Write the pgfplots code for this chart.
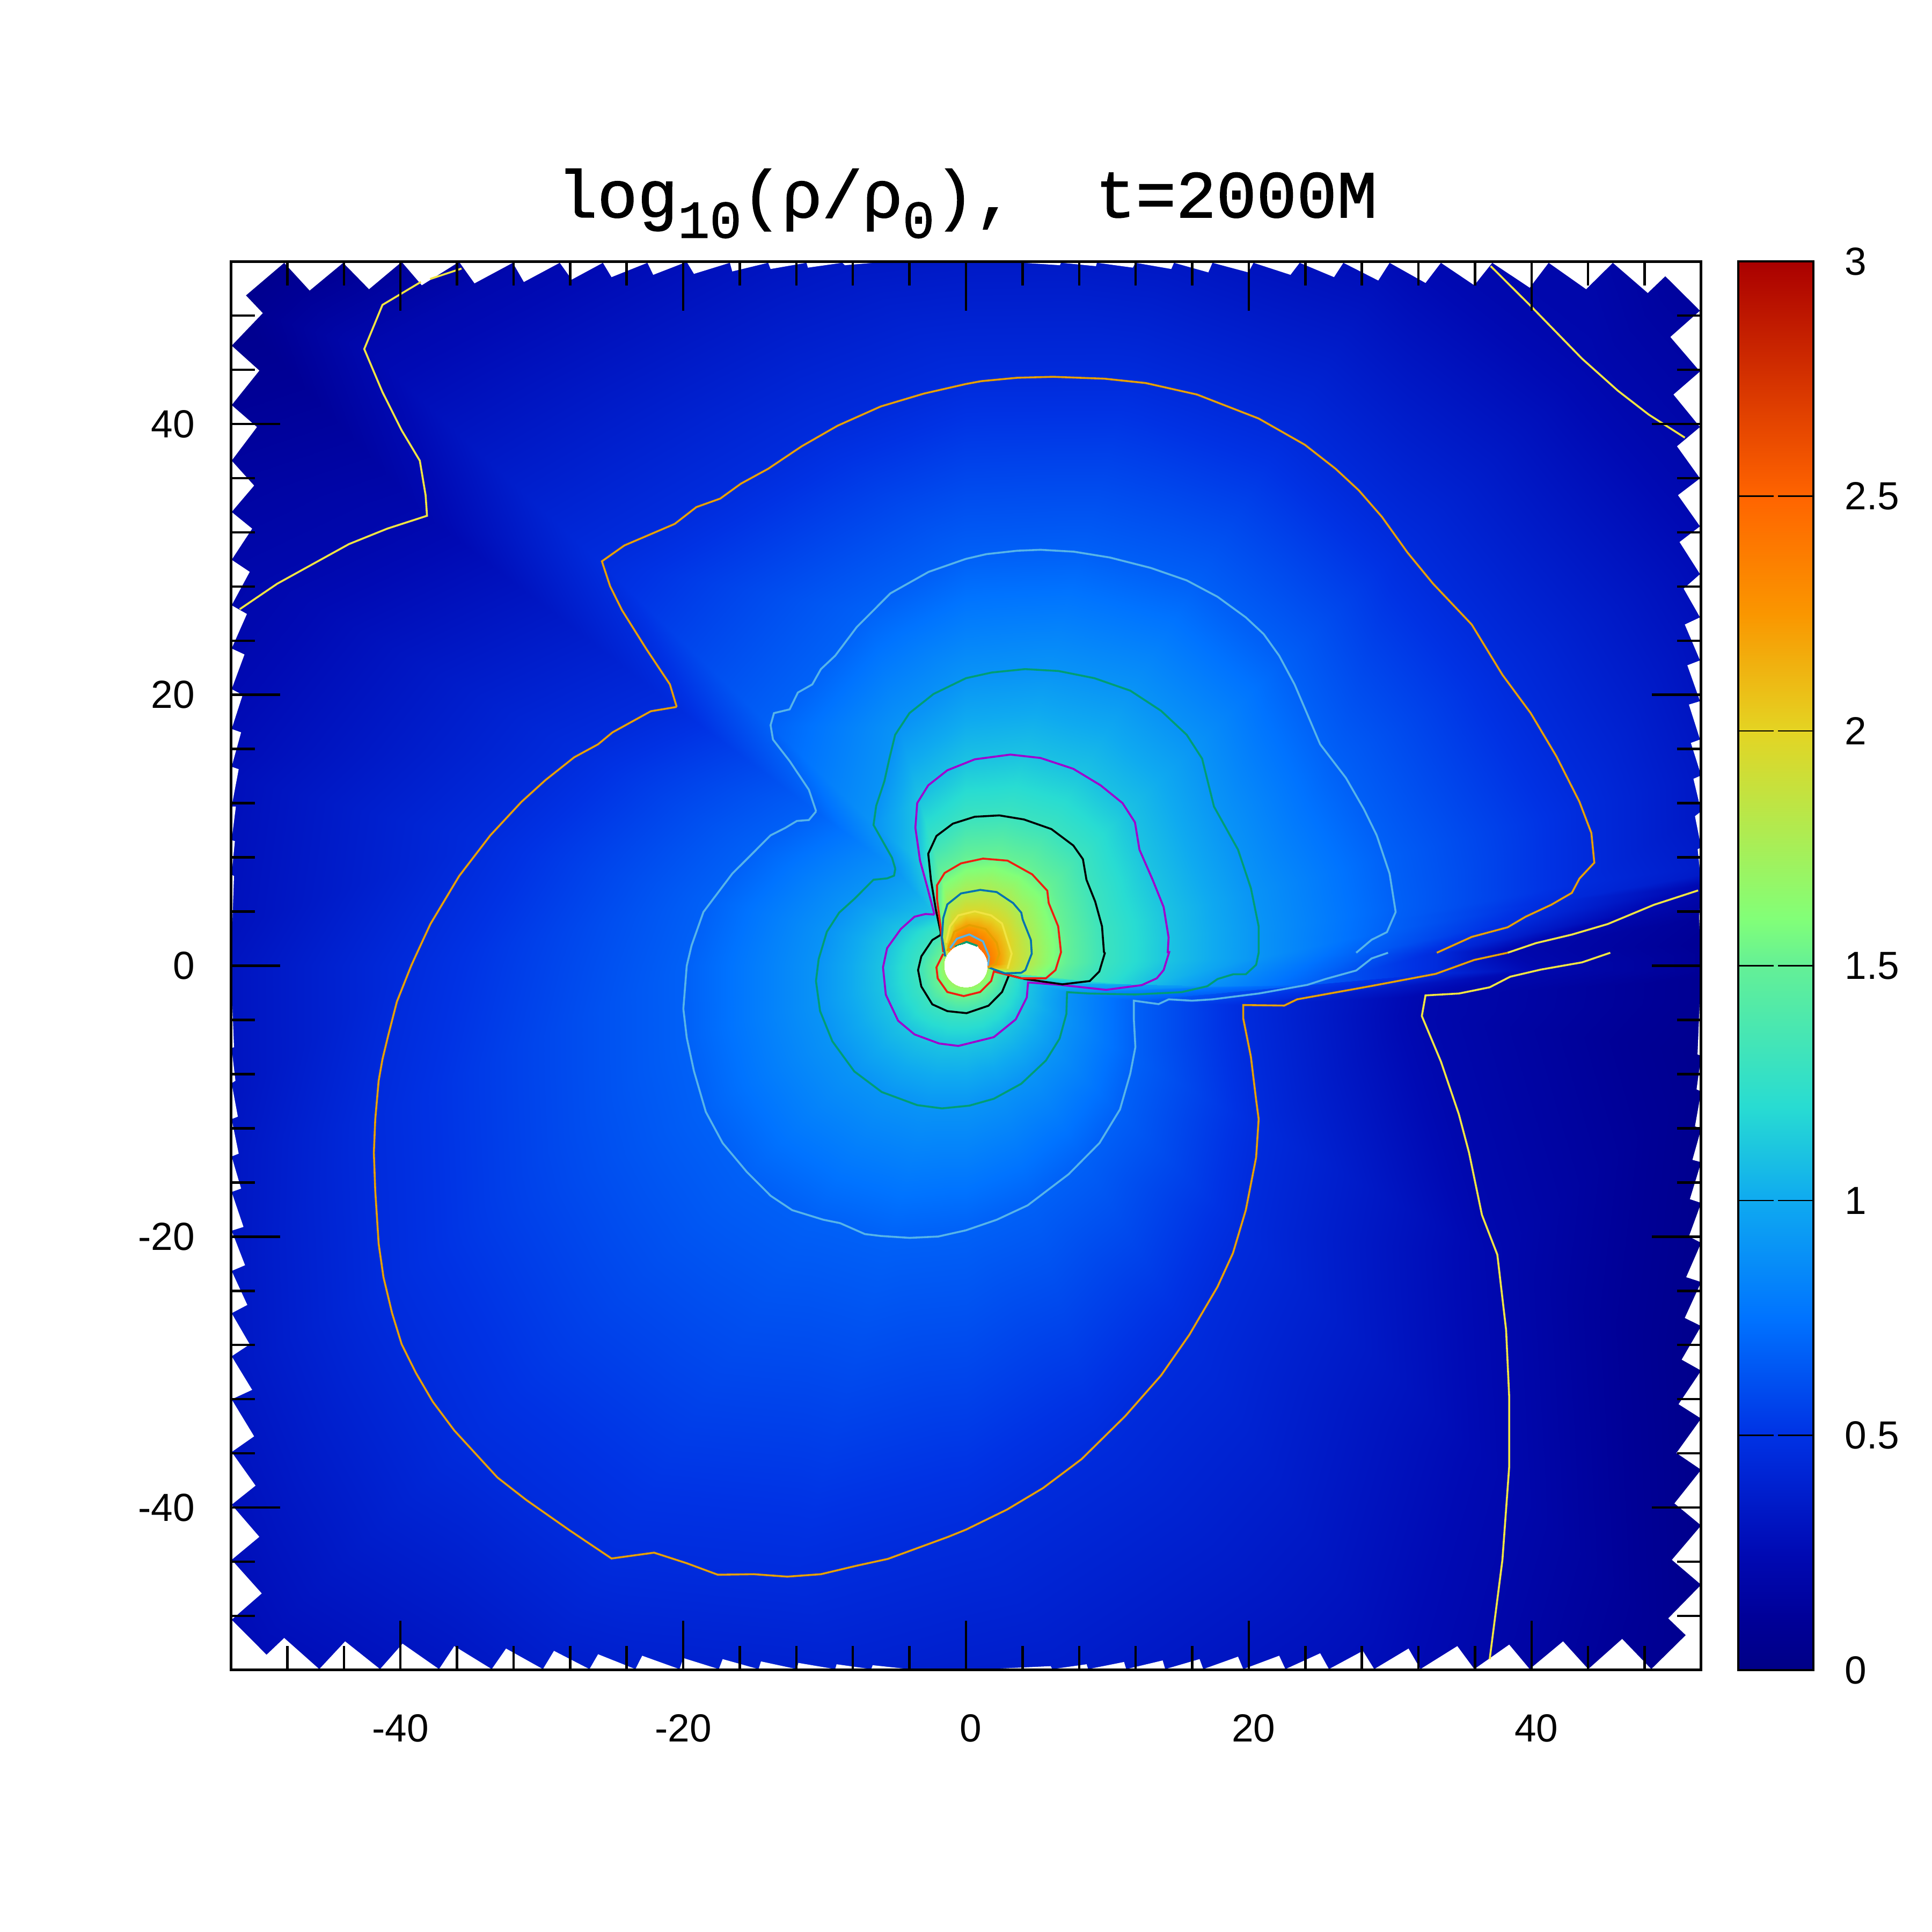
\documentclass[border=0pt]{standalone}
\usepackage{fontspec}
\setmainfont{Liberation Sans}
\newfontfamily\titlefont[RawFeature={embolden=1.2}]{Liberation Mono}
\usepackage{pgfplots}
\pgfplotsset{compat=1.18}
\definecolor{cyel}{RGB}{240,228,66}
\definecolor{cora}{RGB}{230,159,0}
\definecolor{csky}{RGB}{86,180,233}
\definecolor{cgrn}{RGB}{0,158,115}
\definecolor{cpur}{RGB}{160,0,205}
\definecolor{cred}{RGB}{240,30,15}
\definecolor{cblu}{RGB}{0,114,178}
\pgfplotsset{
  colormap={rho}{
    rgb255(0)=(0,0,135) rgb255(10)=(0,0,150) rgb255(25)=(0,10,180) rgb255(50)=(0,50,228)
    rgb255(75)=(0,115,255) rgb255(100)=(15,170,240) rgb255(120)=(40,220,210)
    rgb255(150)=(100,240,150) rgb255(160)=(130,255,120) rgb255(200)=(228,212,35)
    rgb255(225)=(250,150,0) rgb255(250)=(255,100,0) rgb255(300)=(170,0,0)
  }
}
\begin{document}
\begin{tikzpicture}
\path[use as bounding box] (0,0) rectangle (360pt,360pt);
\node[anchor=base west,inner sep=0pt] at (103.6pt,319.5pt) {\titlefont\fontsize{12.5}{14}\selectfont log\raisebox{-3.8pt}{\fontsize{9.9}{11}\selectfont 10}(ρ/ρ\raisebox{-3.8pt}{\fontsize{9.9}{11}\selectfont 0}),\ \ t=2000M};
\begin{axis}[
  at={(43pt,48.8pt)}, anchor=south west,
  width=274pt, height=262.5pt, scale only axis,
  xmin=-52, xmax=52, ymin=-52, ymax=52,
  axis on top,
  axis line style={line width=0.5pt},
  tick align=inside,
  tick style={black,line width=0.45pt},
  major tick length=9.2pt, minor tick length=4.5pt,
  xtick={-40,-20,0,20,40},
  xticklabels={-40,-20,\kern1.8pt 0,\kern1.8pt 20,\kern1.8pt 40},
  ytick={-40,-20,0,20,40},
  yticklabels={-40,-20,0,20,40},
  minor xtick={-48,-44,-36,-32,-28,-24,-16,-12,-8,-4,4,8,12,16,24,28,32,36,44,48},
  minor ytick={-48,-44,-36,-32,-28,-24,-16,-12,-8,-4,4,8,12,16,24,28,32,36,44,48},
  xticklabel style={font=\fontsize{7.3}{8}\selectfont,anchor=north,inner sep=0pt,yshift=-8.1pt},
  yticklabel style={font=\fontsize{7.3}{8}\selectfont,anchor=east,inner sep=0pt,xshift=-6.5pt},
  colormap name=rho,
  point meta min=0, point meta max=3,
  colorbar right,
  colorbar style={
    width=14pt, xshift=-1.9pt,
    ytick={0,0.5,1,1.5,2,2.5,3},
    yticklabels={0,0.5,1,1.5,2,2.5,3},
    tick align=inside, ytick pos=both, yticklabel pos=right,
    major tick length=6.6pt,
    ytick style={black,line width=0.25pt},
    yticklabel style={font=\fontsize{7.3}{8}\selectfont,anchor=west,inner sep=0pt,xshift=5.7pt},
  },
]
% density field: every scan line runs from the inner rim out along the contour levels
\addplot[surf,shader=interp,mesh/cols=13,data cs=polar,point meta=explicit,forget plot] table[x=t,y=r,meta=v,row sep=\\]{
t r v\\
119 1.6 2.45\\131 1.72 2.38\\135 1.9 2.2\\130 2.2 1.97\\129 2.7 1.78\\122 3.42 1.53\\111 6.8 1.3\\113 8.4 1.1\\122 12.3 .9\\128 22.5 .68\\131 39.4 .46\\133 62.3 .22\\134 72 .03\\
105 1.45 2.45\\105 2.12 2.38\\105 2.7 2.2\\105 3.4 1.97\\105 4.8 1.78\\105 6.75 1.53\\105 9.25 1.3\\105 12.7 1.1\\105 18.2 .9\\105 27 .68\\105 40.4 .46\\105 62 .22\\105 90 .1\\
90 1.76 2.45\\90 2.32 2.38\\90 3.02 2.2\\90 3.95 1.97\\90 5.45 1.78\\90 7.65 1.53\\90 10.85 1.3\\90 15 1.1\\90 21.2 .9\\90 30 .68\\90 43 .46\\90 62 .22\\90 90 .15\\
75 1.7 2.45\\75 2.27 2.38\\75 3.05 2.2\\75 4.1 1.97\\75 5.8 1.78\\75 8.2 1.53\\75 11.45 1.3\\75 16.05 1.1\\75 22.6 .9\\75 31.5 .68\\75 44.7 .46\\75 62 .22\\75 90 .13\\
60 1.65 2.45\\60 2.15 2.38\\60 3 2.2\\60 4.1 1.97\\60 5.8 1.78\\60 8.25 1.53\\60 11.7 1.3\\60 16.4 1.1\\60 23.4 .9\\60 32.4 .68\\60 45.2 .46\\60 63 .22\\60 90 .1\\
45 1.5 2.45\\45 1.95 2.38\\45 2.85 2.2\\45 3.95 1.97\\45 5.35 1.78\\45 8.05 1.53\\45 11.5 1.3\\45 16 1.1\\45 22.9 .9\\45 31.7 .68\\45 43.7 .46\\45 62.5 .22\\45 80 .05\\
30 1.45 2.45\\30 1.85 2.38\\30 2.65 2.2\\30 3.65 1.97\\30 5.05 1.78\\30 7.3 1.53\\30 10.45 1.3\\30 14.8 1.1\\30 21.1 .9\\30 30 .68\\30 43.6 .46\\30 63 .22\\30 90 .1\\
15 1.4 2.45\\15 1.75 2.38\\15 2.5 2.2\\15 3.35 1.97\\15 4.85 1.78\\15 7 1.53\\15 10 1.3\\15 14.6 1.1\\15 20.95 .9\\15 30.7 .68\\15 45 .46\\15 62 .22\\15 90 .12\\
8 1.4 2.45\\8 1.7 2.38\\8 2.45 2.2\\8 3.25 1.97\\8 4.75 1.78\\8 6.8 1.53\\8 9.85 1.3\\8 14.5 1.1\\8 20.9 .9\\8 30.65 .68\\8 44 .46\\8 65 .22\\8 90 .15\\
6.5 1.4 2.45\\6.5 1.68 2.38\\6.5 2.42 2.2\\6.5 3.22 1.97\\6.5 4.72 1.78\\6.5 6.77 1.53\\6.5 9.82 1.3\\6.5 14.4 1.1\\6.5 20.85 .9\\6.5 30.3 .68\\6.5 41.6 .46\\6.5 53 .22\\6.5 70 .02\\
5 1.4 2.45\\5 1.65 2.38\\5 2.4 2.2\\5 3.2 1.97\\5 4.7 1.78\\5 6.75 1.53\\5 9.8 1.3\\5 14.35 1.1\\5 20.8 .9\\5 30 .68\\5 39.5 .46\\5 48.5 .22\\5 65 .02\\
1.7 1.4 2.45\\1.7 1.6 2.38\\1.7 2.35 2.2\\1.7 3.15 1.97\\1.7 4.65 1.78\\1.7 6.7 1.53\\1.7 9.76 1.3\\1.7 14.3 1.1\\1.7 20.7 .9\\1.7 27.6 .68\\1.7 33.3 .46\\1.7 38.3 .22\\1.7 60 .02\\
0 1.4 2.45\\1 1.6 2.38\\1 2.07 2.2\\-4 2.95 1.97\\-7.6 3.94 1.78\\-9.3 5.73 1.53\\-7.4 8.82 1.3\\-6.6 12.5 1.1\\-5 17.14 .9\\-3.3 24.2 .68\\-1 33.2 .46\\-.4 40.7 .22\\-.5 60 .02\\
-5 1.3 2.45\\-5 1.35 2.38\\-5 1.4 2.2\\-5 1.45 1.97\\-4.3 1.6 1.78\\-12 2.01 1.53\\-12.8 3.12 1.3\\-15.6 4.56 1.1\\-15.3 7.41 .9\\-12.3 12.15 .68\\-8.4 19.8 .46\\-3.9 32.6 .22\\-2 60 .02\\
-22 1.05 2.45\\-22 1.1 2.38\\-22 1.15 2.2\\-22 1.2 1.97\\-22 1.35 1.78\\-22 2.05 1.53\\-22 3.15 1.3\\-22 4.7 1.1\\-22 7.5 .9\\-18 12.5 .68\\-11 20 .46\\-6.6 32.45 .22\\-7 55 .03\\
-30 1.05 2.45\\-30 1.1 2.38\\-30 1.15 2.2\\-30 1.2 1.97\\-30 1.3 1.78\\-30 2.1 1.53\\-30 3.17 1.3\\-30 4.92 1.1\\-30 8.1 .9\\-30 13.7 .68\\-30 23.9 .46\\-30 43 .22\\-30 60 .03\\
-45 1.05 2.45\\-45 1.1 2.38\\-45 1.15 2.2\\-45 1.2 1.97\\-45 1.3 1.78\\-45 2.15 1.53\\-45 3.25 1.3\\-45 5.2 1.1\\-45 8.8 .9\\-45 15.25 .68\\-45 27.4 .46\\-45 54 .22\\-45 75 .03\\
-60 1.05 2.45\\-60 1.1 2.38\\-60 1.15 2.2\\-60 1.2 1.97\\-60 1.3 1.78\\-60 2.18 1.53\\-60 3.35 1.3\\-60 5.47 1.1\\-60 9.3 .9\\-60 16.6 .68\\-60 31.7 .46\\-60 66 .22\\-60 90 .05\\
-75 1.05 2.45\\-75 1.1 2.38\\-75 1.15 2.2\\-75 1.2 1.97\\-75 1.3 1.78\\-75 2.2 1.53\\-75 3.45 1.3\\-75 5.7 1.1\\-75 9.75 .9\\-75 18.1 .68\\-75 36.4 .46\\-75 70 .22\\-75 90 .08\\
-90 1.05 2.45\\-90 1.1 2.38\\-90 1.15 2.2\\-90 1.2 1.97\\-90 1.3 1.78\\-90 2.25 1.53\\-90 3.5 1.3\\-90 5.9 1.1\\-90 10.44 .9\\-90 19.5 .68\\-90 41.5 .46\\-90 72 .22\\-90 90 .12\\
-105 1.05 2.45\\-105 1.1 2.38\\-105 1.15 2.2\\-105 1.2 1.97\\-105 1.3 1.78\\-105 2.3 1.53\\-105 3.57 1.3\\-105 6.03 1.1\\-105 10.8 .9\\-105 20.8 .68\\-105 46.6 .46\\-105 72 .22\\-105 90 .15\\
-120 1.05 2.45\\-120 1.1 2.38\\-120 1.15 2.2\\-120 1.2 1.97\\-120 1.3 1.78\\-120 2.35 1.53\\-120 3.65 1.3\\-120 6.2 1.1\\-120 11 .9\\-120 21.4 .68\\-120 50.4 .46\\-120 74 .22\\-120 90 .18\\
-135 1.05 2.45\\-135 1.1 2.38\\-135 1.15 2.2\\-135 1.2 1.97\\-135 1.3 1.78\\-135 2.3 1.53\\-135 3.7 1.3\\-135 6.28 1.1\\-135 11.1 .9\\-135 21.8 .68\\-135 50 .46\\-135 76 .22\\-135 90 .2\\
-150 1.05 2.45\\-150 1.1 2.38\\-150 1.15 2.2\\-150 1.2 1.97\\-150 1.3 1.78\\-150 2.22 1.53\\-150 3.55 1.3\\-150 6.2 1.1\\-150 11 .9\\-150 21.3 .68\\-150 47.5 .46\\-150 70 .22\\-150 90 .18\\
-165 1.05 2.45\\-165 1.1 2.38\\-165 1.15 2.2\\-165 1.2 1.97\\-165 1.3 1.78\\-165 2.13 1.53\\-165 3.45 1.3\\-165 6 1.1\\-165 10.8 .9\\-165 20.4 .68\\-165 43.2 .46\\-165 62 .22\\-165 90 .15\\
180 1.05 2.45\\180 1.1 2.38\\180 1.15 2.2\\180 1.2 1.97\\180 1.3 1.78\\180 2.08 1.53\\180 3.38 1.3\\180 5.87 1.1\\180 10.45 .9\\180 19.75 .68\\180 39.2 .46\\180 60 .22\\180 90 .12\\
165 1.05 2.45\\165 1.1 2.38\\165 1.15 2.2\\165 1.2 1.97\\165 1.4 1.78\\165 1.95 1.53\\165 3.2 1.3\\165 5.7 1.1\\165 10.1 .9\\165 18.7 .68\\165 35.2 .46\\165 60 .22\\165 90 .1\\
150 1.05 2.45\\150 1.1 2.38\\150 1.15 2.2\\150 1.2 1.97\\150 1.55 1.78\\150 1.84 1.53\\150 3.1 1.3\\150 5.35 1.1\\150 9.4 .9\\150 17.2 .68\\150 31.5 .46\\150 56 .22\\150 80 .06\\
130 1.4 2.45\\140 1.45 2.38\\140 1.5 2.2\\145 1.55 1.97\\155 1.62 1.78\\148 1.9 1.53\\125.6 3.09 1.3\\120.5 4.4 1.1\\125 8.73 .9\\133 15.6 .68\\137 28 .46\\139 50.5 .22\\137 72 .03\\
119 1.6 2.45\\131 1.72 2.38\\135 1.9 2.2\\130 2.2 1.97\\129 2.7 1.78\\122 3.42 1.53\\111 6.8 1.3\\113 8.4 1.1\\122 12.3 .9\\128 22.5 .68\\131 39.4 .46\\133 62.3 .22\\134 72 .03\\
};
% white teeth round the domain, one polygon per quadrant
\addplot[fill=white,draw=none,forget plot] coordinates {
(0,52)(-6.03,51.94)(-8.57,51.72)(-8.74,51.9)(-11.18,51.54)(-11.28,51.9)(-13.82,51.44)(-13.99,51.9)(-16.53,51.26)(-16.7,51.9)(-19.24,51.08)(-19.75,51.97)(-22.12,51.01)(-22.53,51.9)(-25.07,50.84)(-25.68,51.9)(-27.88,50.66)(-28.73,51.9)(-31.27,50.48)(-32.05,51.9)(-34.76,50.38)(-35.85,51.97)(-38.49,50.24)(-39.91,51.97)(-42.22,49.95)(-44.05,51.9)(-46.42,49.85)(-48.22,51.9)(-50.93,49.49)(-49.74,48.18)(-51.94,45.78)(-49.98,43.94)(-51.94,41.39)(-50.15,39.77)(-51.94,37.29)(-50.35,35.45)(-51.94,33.5)(-50.49,32.27)(-51.94,29.97)(-50.66,29.08)(-51.94,26.61)(-50.86,25.97)(-51.94,23.42)(-51.03,22.98)(-51.94,20.42)(-51.16,19.99)(-51.94,17.48)(-51.27,17.23)(-51.94,14.69)(-51.44,14.51)(-51.94,11.75)(-51.64,11.75)(-51.94,9.27)(-51.71,9.2)(-51.94,6.73)(-51.77,6.62)(-52,0)(-52.5,0)(-52.5,52.5)(0,52.5)} -- cycle;
\addplot[fill=white,draw=none,forget plot] coordinates {
(-52,0)(-51.77,-6.01)(-51.94,-6.08)(-51.67,-8.49)(-51.94,-8.67)(-51.5,-11.14)(-51.94,-11.32)(-51.44,-13.87)(-51.94,-14.08)(-51.27,-16.45)(-51.94,-16.7)(-51.1,-19.28)(-51.94,-19.56)(-50.99,-22.11)(-51.94,-22.53)(-50.83,-25.04)(-51.94,-25.65)(-50.66,-27.95)(-51.94,-28.83)(-50.49,-31.31)(-51.94,-32.01)(-50.35,-34.74)(-51.94,-35.9)(-50.25,-38.38)(-51.94,-39.79)(-49.98,-42.16)(-51.94,-43.86)(-49.81,-46.34)(-51.94,-48.28)(-49.47,-50.87)(-48.22,-49.63)(-45.74,-51.93)(-43.91,-49.88)(-41.44,-51.93)(-39.85,-50.05)(-37.27,-51.93)(-36.19,-50.23)(-33.54,-51.93)(-32.53,-50.41)(-29.92,-51.93)(-29.14,-50.58)(-26.63,-51.93)(-26.02,-50.83)(-23.38,-51.93)(-22.9,-50.94)(-20.26,-51.93)(-19.99,-51.11)(-17.48,-51.93)(-17.21,-51.19)(-14.67,-51.93)(-14.5,-51.36)(-11.96,-51.93)(-11.86,-51.47)(-9.25,-51.93)(-9.15,-51.57)(-6.7,-51.93)(-6.6,-51.64)(-4,-51.93)(0,-52)(0,-52.5)(-52.5,-52.5)(-52.5,0)} -- cycle;
\addplot[fill=white,draw=none,forget plot] coordinates {
(0,-52)(5.99,-51.71)(6.1,-51.93)(8.53,-51.57)(8.64,-51.93)(11.18,-51.4)(11.33,-51.93)(13.91,-51.29)(14.09,-51.93)(16.52,-51.19)(16.78,-51.93)(19.24,-51.01)(19.61,-51.93)(22.15,-50.94)(22.59,-51.93)(25.05,-50.76)(25.67,-51.93)(28.07,-50.58)(28.87,-51.93)(31.3,-50.41)(32.14,-51.93)(34.75,-50.23)(35.95,-51.93)(38.42,-50.12)(39.87,-51.93)(42.23,-49.88)(44.01,-51.93)(46.41,-49.7)(48.47,-51.93)(50.91,-49.42)(49.67,-48.18)(52,-45.7)(49.93,-43.86)(52,-41.32)(50.11,-39.69)(52,-37.21)(50.25,-35.97)(52,-33.43)(50.4,-32.37)(52,-29.89)(50.62,-29.08)(52,-26.6)(50.84,-26)(52,-23.35)(50.94,-22.99)(52,-20.45)(51.13,-19.99)(52,-17.51)(51.2,-17.23)(52,-14.5)(51.38,-14.33)(52,-12.03)(51.56,-11.85)(52,-9.27)(51.67,-9.13)(52,-6.65)(51.74,-6.54)(52,0)(52.5,0)(52.5,-52.5)(0,-52.5)} -- cycle;
\addplot[fill=white,draw=none,forget plot] coordinates {
(52,0)(51.85,3.61)(52,6.09)(51.75,8.6)(52,8.74)(51.56,11.04)(52,11.4)(51.45,13.8)(52,14.05)(51.27,16.45)(51.92,16.7)(51.13,19.28)(51.92,19.53)(51.02,22.18)(51.92,22.54)(50.84,25.19)(51.92,25.72)(50.76,27.84)(51.92,28.91)(50.47,31.28)(51.92,32.44)(50.36,34.74)(51.92,35.98)(50.29,38.35)(51.92,39.77)(50.04,42.17)(51.92,43.87)(49.82,46.42)(51.92,48.36)(49.46,50.91)(48.22,49.67)(45.75,51.9)(43.86,49.95)(41.21,51.9)(39.87,50.06)(37.22,51.9)(35.95,50.24)(33.59,51.9)(32.5,50.41)(29.96,51.9)(29.16,50.59)(26.69,51.9)(26.03,50.84)(23.6,51.9)(22.95,51.01)(20.33,51.9)(19.97,51.19)(17.43,51.9)(17.14,51.19)(14.71,51.9)(14.52,51.44)(11.98,51.9)(11.8,51.54)(9.26,51.9)(9.19,51.65)(6.72,51.9)(6.64,51.72)(3.99,51.9)(0,52)(0,52.5)(52.5,52.5)(52.5,0)} -- cycle;
\addplot[only marks,white,mark=*,mark size=3.98pt,mark options={fill=white,draw=white,line width=0pt},forget plot] coordinates {(0,0)};
% contour lines
\pgfplotsset{every axis plot/.append style={line width=0.36pt,no marks,forget plot}}
\addplot[cyel] coordinates {(-51.37,26.32)(-48.72,28.2)(-43.64,31.13)(-40.93,32.27)(-38.12,33.22)(-38.22,34.74)(-38.63,37.29)(-39.91,39.52)(-41.27,42.35)(-42.56,45.53)(-41.27,48.79)(-38.56,50.48)};
\addplot[cyel] coordinates {(-37.9,50.7)(-35.68,51.47)};
\addplot[cyel] coordinates {(37.11,51.65)(39.94,48.71)(43.57,44.82)(46.11,42.45)(48.29,40.69)(50.84,38.99)};
\addplot[cyel] coordinates {(51.78,5.56)(48.66,4.5)(45.39,3.08)(42.85,2.3)(40.31,1.67)(38.31,0.96)};
\addplot[cyel] coordinates {(45.57,0.96)(43.57,0.25)(40.67,-0.28)(38.49,-0.81)(37.04,-1.59)(34.86,-2.05)(32.5,-2.19)(32.24,-3.71)(33.59,-7.07)(34.86,-10.97)(35.58,-13.8)(36.49,-18.39)(37.58,-21.33)(38.2,-26.88)(38.42,-31.84)(38.42,-36.97)(37.94,-43.86)(37.04,-51.19)};
\addplot[cora] coordinates {(-20.46,19.11)(-20.94,20.77)(-22.63,23.42)(-24.33,26.25)(-25.17,28.02)(-25.75,29.86)(-24.16,31.03)(-20.6,32.62)(-19.07,33.86)(-17.38,34.49)(-15.92,35.59)(-13.99,36.69)(-11.62,38.35)(-9.08,39.87)(-6.03,41.29)(-2.98,42.24)(0,42.95)(1.09,43.16)(3.63,43.41)(6.17,43.48)(9.8,43.34)(12.71,43.02)(16.34,42.17)(20.7,40.4)(23.97,38.46)(26.14,36.69)(27.78,35.1)(29.41,33.15)(31.23,30.5)(33.04,28.2)(35.77,25.19)(37.94,21.48)(39.94,18.65)(41.76,15.46)(43.39,12.1)(44.23,9.8)(44.44,7.61)(43.39,6.44)(42.85,5.38)(41.39,4.5)(39.58,3.62)(38.31,2.84)(35.77,2.13)(33.3,0.96)};
\addplot[cora] coordinates {(38.31,0.96)(35.95,0.43)(33.22,-0.6)(28.69,-1.49)(23.42,-2.48)(22.51,-2.94)(19.61,-2.9)(19.61,-3.89)(20.15,-6.72)(20.52,-9.9)(20.7,-11.32)(20.52,-14.15)(19.79,-18.04)(18.88,-21.22)(17.79,-23.7)(15.8,-27.24)(13.8,-30.24)(11.26,-33.25)(8.17,-36.43)(5.45,-38.56)(2.9,-40.15)(0,-41.63)(-1.28,-42.17)(-5.52,-43.79)(-7.72,-44.29)(-10.26,-44.92)(-12.64,-45.1)(-15.01,-44.92)(-17.55,-44.96)(-19.75,-44.11)(-22.06,-43.33)(-25.07,-43.76)(-28.05,-41.67)(-31.1,-39.44)(-33.14,-37.78)(-36.19,-34.31)(-37.71,-32.19)(-38.9,-30.07)(-39.91,-27.95)(-40.59,-25.65)(-41.2,-22.99)(-41.54,-20.52)(-41.78,-16.63)(-41.88,-13.8)(-41.78,-11.32)(-41.54,-8.49)(-41.27,-6.9)(-40.86,-5.13)(-40.25,-2.65)(-39.24,0)(-38.9,0.78)(-37.88,3.08)(-35.85,6.62)(-33.64,9.63)(-31.44,12.1)(-29.75,13.7)(-27.71,15.39)(-26.02,16.35)(-25,17.23)(-22.29,18.79)(-20.46,19.11)};
\addplot[csky] coordinates {(-10.6,11.4)(-11.11,12.99)(-12.47,15.11)(-13.65,16.7)(-13.82,17.76)(-13.58,18.65)(-12.47,18.93)(-11.89,20.17)(-10.87,20.77)(-10.26,21.9)(-9.25,22.89)(-7.72,25.01)(-5.35,27.49)(-2.64,29.08)(0,30.04)(1.45,30.39)(3.63,30.64)(5.27,30.71)(7.63,30.57)(10.17,30.14)(13.07,29.37)(15.61,28.45)(17.79,27.24)(19.79,25.72)(21.06,24.48)(22.15,22.89)(23.24,20.77)(25.05,16.35)(26.87,13.87)(28.14,11.57)(29.05,9.63)(29.96,6.8)(30.39,3.97)(29.77,2.48)(28.69,1.92)(27.6,0.96)};
\addplot[csky] coordinates {(29.85,0.96)(28.69,0.54)(27.6,-0.35)(25.42,-0.98)(24.15,-1.41)(20.7,-2.05)(17.43,-2.48)(15.98,-2.58)(14.34,-2.48)(13.62,-2.83)(11.87,-2.58)(11.87,-3.89)(11.98,-6.01)(11.62,-7.96)(10.89,-10.61)(9.44,-13.09)(7.26,-15.39)(4.36,-17.69)(2.18,-18.75)(0,-19.53)(-1.96,-19.99)(-3.99,-20.09)(-6.03,-19.95)(-7.15,-19.81)(-8.91,-19)(-10.09,-18.75)(-12.3,-18.04)(-13.82,-16.98)(-15.51,-15.21)(-17.21,-13.09)(-18.4,-10.79)(-19.24,-7.78)(-19.75,-5.31)(-19.99,-3.18)(-19.75,0)(-19.41,1.49)(-18.57,3.97)(-16.53,6.8)(-15.51,7.86)(-13.82,9.63)(-12.81,10.16)(-11.96,10.69)(-11.11,10.76)(-10.6,11.4)};
\addplot[cgrn] coordinates {(-5,7.16)(-5.23,7.97)(-6.54,10.39)(-6.35,11.81)(-5.77,13.63)(-5.42,15.29)(-5.01,17.05)(-4,18.65)(-2.3,20.06)(0,21.23)(1.82,21.65)(4.18,21.9)(6.54,21.76)(9.08,21.23)(11.62,20.31)(13.8,18.82)(15.61,17.05)(16.7,15.29)(17.54,11.75)(19.24,8.57)(20.15,5.73)(20.7,2.91)(20.7,0.96)(20.52,0.07)(19.79,-0.63)(18.9,-0.63)(17.79,-0.98)(17.07,-1.51)(15.25,-1.95)(11.98,-2.12)(8.71,-2.05)(7.15,-1.95)(7.1,-3.56)(6.62,-5.38)(5.65,-7)(3.91,-8.71)(1.97,-9.82)(0.23,-10.33)(-1.7,-10.53)(-3.45,-10.29)(-5.96,-9.32)(-7.9,-7.8)(-9.45,-5.58)(-10.32,-3.35)(-10.61,-1.13)(-10.42,0.49)(-9.84,2.51)(-8.97,3.92)(-7.9,4.93)(-6.54,6.35)(-5.58,6.45)(-5.09,6.65)(-5,7.16)};
\addplot[cpur] coordinates {(-2.23,3.78)(-2.77,5.94)(-3.25,7.76)(-3.58,10.19)(-3.45,12.01)(-2.67,13.32)(-1.32,14.43)(0.62,15.24)(3.14,15.59)(5.27,15.34)(7.59,14.54)(9.52,13.32)(11.07,12.01)(11.95,10.59)(12.27,8.57)(13.2,6.35)(13.98,4.33)(14.33,2.1)(14.27,1)(14.37,1)(13.98,-0.32)(13.49,-0.93)(12.43,-1.43)(9.91,-1.78)(6.82,-1.43)(4.39,-1.23)(4.3,-2.34)(3.52,-3.96)(1.97,-5.27)(-0.54,-5.92)(-1.9,-5.74)(-3.64,-5.07)(-4.8,-4.06)(-5.67,-2.14)(-5.87,-0.12)(-5.58,1.3)(-4.61,2.71)(-3.64,3.62)(-2.87,3.82)(-2.23,3.78)};
\addplot[black] coordinates {(-1.8,2.51)(-2.13,4.13)(-2.48,6.35)(-2.67,8.27)(-2.09,9.58)(-0.93,10.49)(0.62,11)(2.36,11.1)(4.1,10.8)(6.04,10.09)(7.59,8.88)(8.27,7.87)(8.52,6.35)(9.14,4.73)(9.62,2.91)(9.76,1)(9.82,0.93)(9.43,-0.42)(8.75,-1.13)(6.82,-1.37)(4.1,-0.97)(3.04,-0.69)(2.55,-1.94)(1.59,-2.95)(0.04,-3.5)(-1.32,-3.35)(-2.38,-2.85)(-3.16,-1.53)(-3.39,-0.32)(-3.16,0.69)(-2.38,1.9)(-1.8,2.27)(-1.8,2.51)};
\addplot[cred] coordinates {(-1.61,1)(-1.8,2.91)(-2.05,4.93)(-2.05,5.94)(-1.51,6.85)(-0.35,7.56)(1.2,7.91)(2.94,7.76)(4.68,6.75)(5.75,5.54)(5.85,4.63)(6.52,2.91)(6.72,1)(6.33,-0.32)(5.65,-0.93)(3.91,-0.93)(1.97,-0.42)(1.78,-1.13)(1,-1.94)(-0.16,-2.24)(-1.32,-1.94)(-2,-0.93)(-2.09,-0.12)(-1.61,0.89)};
\addplot[cblu] coordinates {(-1.47,0.69)(-1.7,2.1)(-1.61,3.52)(-1.32,4.53)(-0.35,5.34)(1.01,5.6)(2.17,5.44)(3.33,4.63)(3.91,3.92)(4.01,3.42)(4.59,1.9)(4.65,0.89)(4.2,-0.32)(3.91,-0.52)(2.75,-0.56)(1.59,-0.12)};
\addplot[cyel] coordinates {(-1.41,1.7)(-1.13,2.91)(-0.54,3.72)(0.62,4.02)(1.78,3.72)(2.55,3.12)(3.23,0.89)(2.94,-0.22)};
\addplot[cora] coordinates {(-1.32,1.09)(-0.83,2.51)(0.23,3.01)(1.39,2.71)(2.17,1.7)(2.36,0.89)(2.07,0.1)(1.59,-0.12)};
\addplot[csky] coordinates {(-1.12,1.3)(-0.64,2)(0.23,2.31)(1.2,1.8)(1.63,0.69)(1.55,0)};
\addplot[cgrn] coordinates {(-0.78,1.4)(0.04,1.76)(0.81,1.46)};
\end{axis}
\end{tikzpicture}
\end{document}
